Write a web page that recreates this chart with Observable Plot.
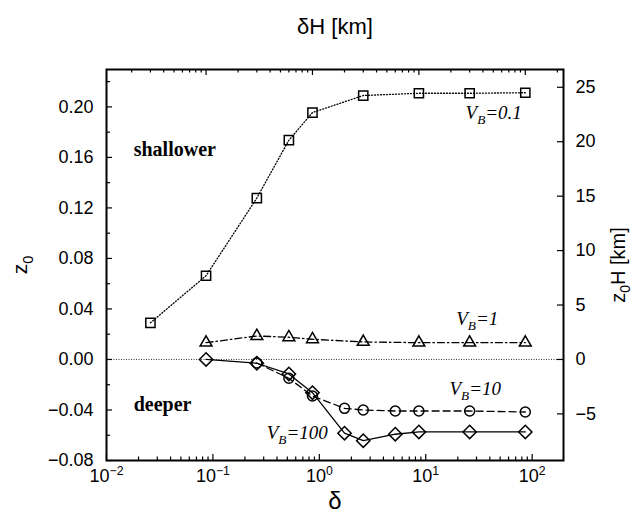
<!DOCTYPE html>
<html><head><meta charset="utf-8">
<script src="https://cdn.jsdelivr.net/npm/d3@7"></script>
<script src="https://cdn.jsdelivr.net/npm/@observablehq/plot@0.6"></script>
<style>body{margin:0;background:#fff}</style>
</head><body><div id="chart"></div>
<script>
// scale height H (km) linking delta to deltaH
const H = 116;

// series: deltaH [km] and z0
const dH_VB01 = [3, 10, 30, 60, 100, 300, 1000, 3000, 10000];
const z0_VB01 = [0.029, 0.0663, 0.1278, 0.1736, 0.1955, 0.209, 0.2108, 0.2108, 0.2112];

const dH_VB1 = [10, 30, 60, 100, 300, 1000, 3000, 10000];
const z0_VB1 = [0.0133, 0.0186, 0.0176, 0.016, 0.0139, 0.0133, 0.0133, 0.0133];

const dH_VB10 = [30, 60, 100, 200, 300, 600, 1000, 3000, 10000];
const z0_VB10 = [-0.0028, -0.0149, -0.0289, -0.0387, -0.040, -0.0408, -0.0408, -0.0408, -0.0416];

const dH_VB100 = [10, 30, 60, 100, 200, 300, 600, 1000, 3000, 10000];
const z0_VB100 = [0.0, -0.003, -0.0115, -0.0263, -0.0584, -0.0643, -0.0592, -0.0574, -0.0574, -0.0574];

// ticks
const xTicks = [0.01, 0.1, 1, 10, 100];
const xTickLabels = ["10^−2", "10^−1", "10^0", "10^1", "10^2"];
const topTicks = [10, 100, 1000, 10000];
const topTickLabels = ["10^1", "10^2", "10^3", "10^4"];
const yTicks = [-0.08, -0.04, 0, 0.04, 0.08, 0.12, 0.16, 0.20];
const yMinor = [-0.06, -0.02, 0.02, 0.06, 0.10, 0.14, 0.18, 0.22];
const kmTicks = [-5, 0, 5, 10, 15, 20, 25];
const decadesBottom = [-2, -1, 0, 1];
const decadesTop = [0, 1, 2, 3, 4];
const mantissas = [2, 3, 4, 5, 6, 7, 8, 9];

// annotations
const seriesLabels = ["V_B=0.1", "V_B=1", "V_B=10", "V_B=100"];
const seriesLabelX = [80, 48, 51, 1.2];
const seriesLabelY = [0.195, 0.032, -0.0235, -0.058];
const regionLabels = ["shallower", "deeper"];
const regionLabelX = [0.018, 0.018];
const regionLabelY = [0.166, -0.036];

const xDomain = [0.01, 197];
const yDomain = [-0.08, 0.2296];

const W = 636, HT = 523, mL = 106, mR = 73, mT = 69, mB = 63;
const FW = W - mL - mR, FH = HT - mT - mB;

const toPts = (dh, z) => dh.map((v, i) => ({x: v / H, y: z[i]}));
const s01 = toPts(dH_VB01, z0_VB01);
const s1 = toPts(dH_VB1, z0_VB1);
const s10 = toPts(dH_VB10, z0_VB10);
const s100 = toPts(dH_VB100, z0_VB100);

const xMinor = decadesBottom.flatMap(d => mantissas.map(m => m * 10 ** d)).filter(v => v < xDomain[1]);
const topMinor = decadesTop.flatMap(d => mantissas.map(m => m * 10 ** d)).map(v => v / H).filter(v => v > xDomain[0] && v < xDomain[1]);
const topMajor = topTicks.map(v => v / H);
const kmPos = kmTicks.map(k => k / H);

const sLab = seriesLabels.map((t, i) => ({t, x: seriesLabelX[i], y: seriesLabelY[i]}));
const rLab = regionLabels.map((t, i) => ({t, x: regionLabelX[i], y: regionLabelY[i]}));

const mk = {stroke: "black", fill: "none", strokeWidth: 1.5};
const ln = {stroke: "black", strokeWidth: 1.3};

const chart = Plot.plot({
  width: W, height: HT,
  marginLeft: mL, marginRight: mR, marginTop: mT, marginBottom: mB,
  style: {fontFamily: "'Liberation Sans', Arial, Helvetica, sans-serif", fontSize: "18px", background: "white", color: "black"},
  x: {type: "log", domain: xDomain, axis: null},
  y: {domain: yDomain, axis: null},
  marks: [
    Plot.ruleY([0], {strokeDasharray: "1,1.5", strokeWidth: 0.8}),
    // lines
    Plot.line(s01, {x: "x", y: "y", ...ln, strokeDasharray: "1,2"}),
    Plot.line(s1, {x: "x", y: "y", ...ln, strokeDasharray: "7,3,1.5,3"}),
    Plot.line(s10, {x: "x", y: "y", ...ln, strokeDasharray: "7,4"}),
    Plot.line(s100, {x: "x", y: "y", ...ln}),
    // markers
    Plot.dot(s01, {x: "x", y: "y", symbol: "square", r: 5.2, ...mk}),
    Plot.dot(s1, {x: "x", y: "y", symbol: "triangle", r: 4.4, ...mk}),
    Plot.dot(s10, {x: "x", y: "y", symbol: "circle", r: 5, ...mk}),
    Plot.dot(s100, {x: "x", y: "y", symbol: "diamond2", r: 6, ...mk}),
    // frame and ticks
    Plot.frame({strokeWidth: 2}),
    Plot.tickX(xTicks, {insetTop: FH - 6, strokeWidth: 1.2}),
    Plot.tickX(xMinor, {insetTop: FH - 3.5, strokeWidth: 1.2}),
    Plot.tickX(topMajor, {insetBottom: FH - 6, strokeWidth: 1.2}),
    Plot.tickX(topMinor, {insetBottom: FH - 3.5, strokeWidth: 1.2}),
    Plot.tickY(yTicks, {insetRight: FW - 6, strokeWidth: 1.2}),
    Plot.tickY(yMinor, {insetRight: FW - 4, strokeWidth: 1.2}),
    Plot.tickY(kmPos, {insetLeft: FW - 6, strokeWidth: 1.2}),
    // axes labels
    Plot.axisX(xTicks, {anchor: "bottom", label: null, tickSize: 0, tickPadding: 9, fontSize: 18, tickFormat: d => xTickLabels[xTicks.indexOf(d)]}),
    Plot.axisX(topMajor, {anchor: "top", label: null, tickSize: 0, tickPadding: 9, fontSize: 18, tickFormat: d => topTickLabels[topTicks.indexOf(Math.round(d * H))]}),
    Plot.axisY(yTicks, {anchor: "left", label: null, tickSize: 0, tickPadding: 13, fontSize: 18, tickFormat: d3.format(".2f")}),
    Plot.axisY(kmPos, {anchor: "right", label: null, tickSize: 0, tickPadding: 12, fontSize: 18, tickFormat: d => d3.format("d")(Math.round(d * H))}),
    // titles
    Plot.text(["δH [km]"], {text: d => d, frameAnchor: "top", textAnchor: "middle", dy: -51, fontSize: 22}),
    Plot.text(["δ"], {text: d => d, frameAnchor: "bottom", textAnchor: "middle", dy: 48, fontSize: 24}),
    Plot.text(["z_0"], {text: d => d, frameAnchor: "left", textAnchor: "middle", dx: -86, rotate: -90, fontSize: 21}),
    Plot.text(["z_0H [km]"], {text: d => d, frameAnchor: "right", textAnchor: "middle", dx: 55, rotate: -90, fontSize: 20}),
    // annotations
    Plot.text(sLab, {x: "x", y: "y", text: "t", textAnchor: "end", fontSize: 19, fontStyle: "italic", fontFamily: "'Liberation Serif', 'Times New Roman', serif"}),
    Plot.text(rLab, {x: "x", y: "y", text: "t", textAnchor: "start", fontSize: 20, fontWeight: "bold", fontFamily: "'Liberation Serif', 'Times New Roman', serif"})
  ]
});

// typeset super/subscripts as tspans (real text)
const NS = "http://www.w3.org/2000/svg";
chart.querySelectorAll("text").forEach(t => {
  const s = t.textContent;
  if (s.includes("^")) {
    const [b, e] = s.split("^");
    t.textContent = b;
    const ts = document.createElementNS(NS, "tspan");
    ts.setAttribute("font-size", "0.68em");
    ts.setAttribute("dy", "-0.62em");
    ts.textContent = e;
    t.appendChild(ts);
  } else if (s.includes("_")) {
    const i = s.indexOf("_");
    const b = s.slice(0, i), sub = s.charAt(i + 1), rest = s.slice(i + 2);
    t.textContent = b;
    const ts = document.createElementNS(NS, "tspan");
    ts.setAttribute("font-size", "0.7em");
    ts.setAttribute("dy", "0.38em");
    ts.textContent = sub;
    t.appendChild(ts);
    if (rest) {
      const tr = document.createElementNS(NS, "tspan");
      tr.setAttribute("dy", "-0.266em");
      tr.textContent = rest;
      t.appendChild(tr);
    }
  }
});
document.getElementById("chart").appendChild(chart);
</script>
</body></html>
